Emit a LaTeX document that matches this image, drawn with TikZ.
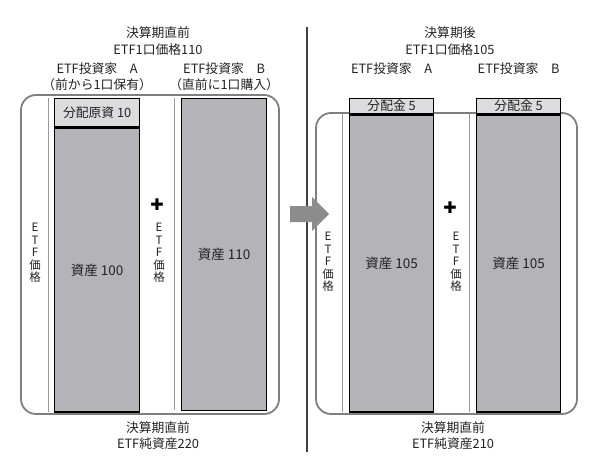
\documentclass[tikz,border=0pt]{standalone}
\usepackage{fontspec}
\setmainfont{Noto Sans CJK JP}
\newfontfamily\symfont{DejaVu Sans}
\usepackage{tikz}
\usetikzlibrary{positioning}
\definecolor{bargray}{HTML}{B4B4B8}
\definecolor{capgray}{HTML}{DCDCDE}
\definecolor{framegray}{HTML}{7F7F7F}
\definecolor{arrowgray}{HTML}{8C8C8C}
\definecolor{textgray}{HTML}{222222}

\begin{document}
\begin{tikzpicture}[x=1pt, y=-1pt, text=textgray, font=\fontsize{12.8}{15}\selectfont,
  frame/.style={draw=framegray, line width=1.8pt, rounded corners=15pt},
  bar/.style={draw=black, fill=bargray, line width=1.3pt, inner sep=0pt, minimum width=85pt, font=\fontsize{13.5}{15}\selectfont},
  topbox/.style={bar, fill=capgray, font=\fontsize{12.8}{15}\selectfont},
  price/.style={draw=black!40, line width=0.6pt},
  vlabel/.style={align=center, inner sep=0pt, font=\fontsize{11.5}{12.5}\selectfont},
  label/.style={inner sep=0pt, align=center},
  plus/.style={font=\symfont\fontsize{16}{16}\selectfont, inner sep=0pt, text=black}]
\useasboundingbox (0,0) rectangle (600,468);
\draw[frame] (21,95) rectangle (279,414);
\draw[frame] (316,113) rectangle (577,414);
\draw[line width=1.2pt, black!75] (307,27) -- (307,452);
\node[topbox, minimum height=28pt, anchor=north west] (capA) at (54,98) {分配原資 10};
\node[bar, minimum height=284pt, below=0pt of capA] (barA) {資産 100};
\node[bar, minimum height=312pt, anchor=north west] (barB) at (181,98) {資産 110};
\node[topbox, minimum width=84pt, minimum height=15pt, anchor=north west] (capC) at (349,98) {分配金 5};
\node[bar, minimum width=84pt, minimum height=297pt, below=0pt of capC] (barC) {資産 105};
\node[topbox, minimum width=84pt, minimum height=15pt, anchor=north west] (capD) at (476,98) {分配金 5};
\node[bar, minimum width=84pt, minimum height=297pt, below=0pt of capD] (barD) {資産 105};
\draw[price] ([xshift=-6pt]capA.north west) -- ([xshift=-6pt,yshift=1pt]barA.south west);
\draw[price] ([xshift=-7pt]barB.north west) -- ([xshift=-7pt,yshift=1pt]barB.south west);
\draw[price] ([xshift=-7pt]barC.north west) -- ([xshift=-7pt,yshift=1pt]barC.south west);
\draw[price] ([xshift=-7pt]barD.north west) -- ([xshift=-7pt,yshift=1pt]barD.south west);
\node[vlabel] (priceA) at (35,253) {E\\T\\F\\価\\格};
\node[vlabel] (priceB) at (159,253) {E\\T\\F\\価\\格};
\node[vlabel] (priceC) at (328,262) {E\\T\\F\\価\\格};
\node[vlabel] (priceD) at (456,262) {E\\T\\F\\価\\格};
\node[plus] (plusL) at (157,205) {✚};
\node[plus] (plusR) at (450,208) {✚};
\fill[arrowgray] (290,206) -- (312,206) -- (312,197) -- (329,214) -- (312,231) -- (312,222) -- (290,222) -- cycle;
\node[label] (headL) at (158,33) {決算期直前};
\node[label] (pxL) at (158,50) {ETF1口価格110};
\node[label] (invA) at (capA.north |- 0,69) {ETF投資家　A};
\node[label] (noteA) at (capA.north |- 0,85) {（前から1口保有）};
\node[label] (invB) at (barB.north |- 0,69) {ETF投資家　B};
\node[label] (noteB) at (barB.north |- 0,85) {（直前に1口購入）};
\node[label] (headR) at (450,33) {決算期後};
\node[label] (pxR) at (450,50) {ETF1口価格105};
\node[label] (invC) at (capC.north |- 0,69) {ETF投資家　A};
\node[label] (invD) at (capD.north |- 0,69) {ETF投資家　B};
\node[label] (footL) at (158,428) {決算期直前};
\node[label] (navL) at (158,444) {ETF純資産220};
\node[label] (footR) at (453,428) {決算期直前};
\node[label] (navR) at (453,444) {ETF純資産210};
\end{tikzpicture}
\end{document}
